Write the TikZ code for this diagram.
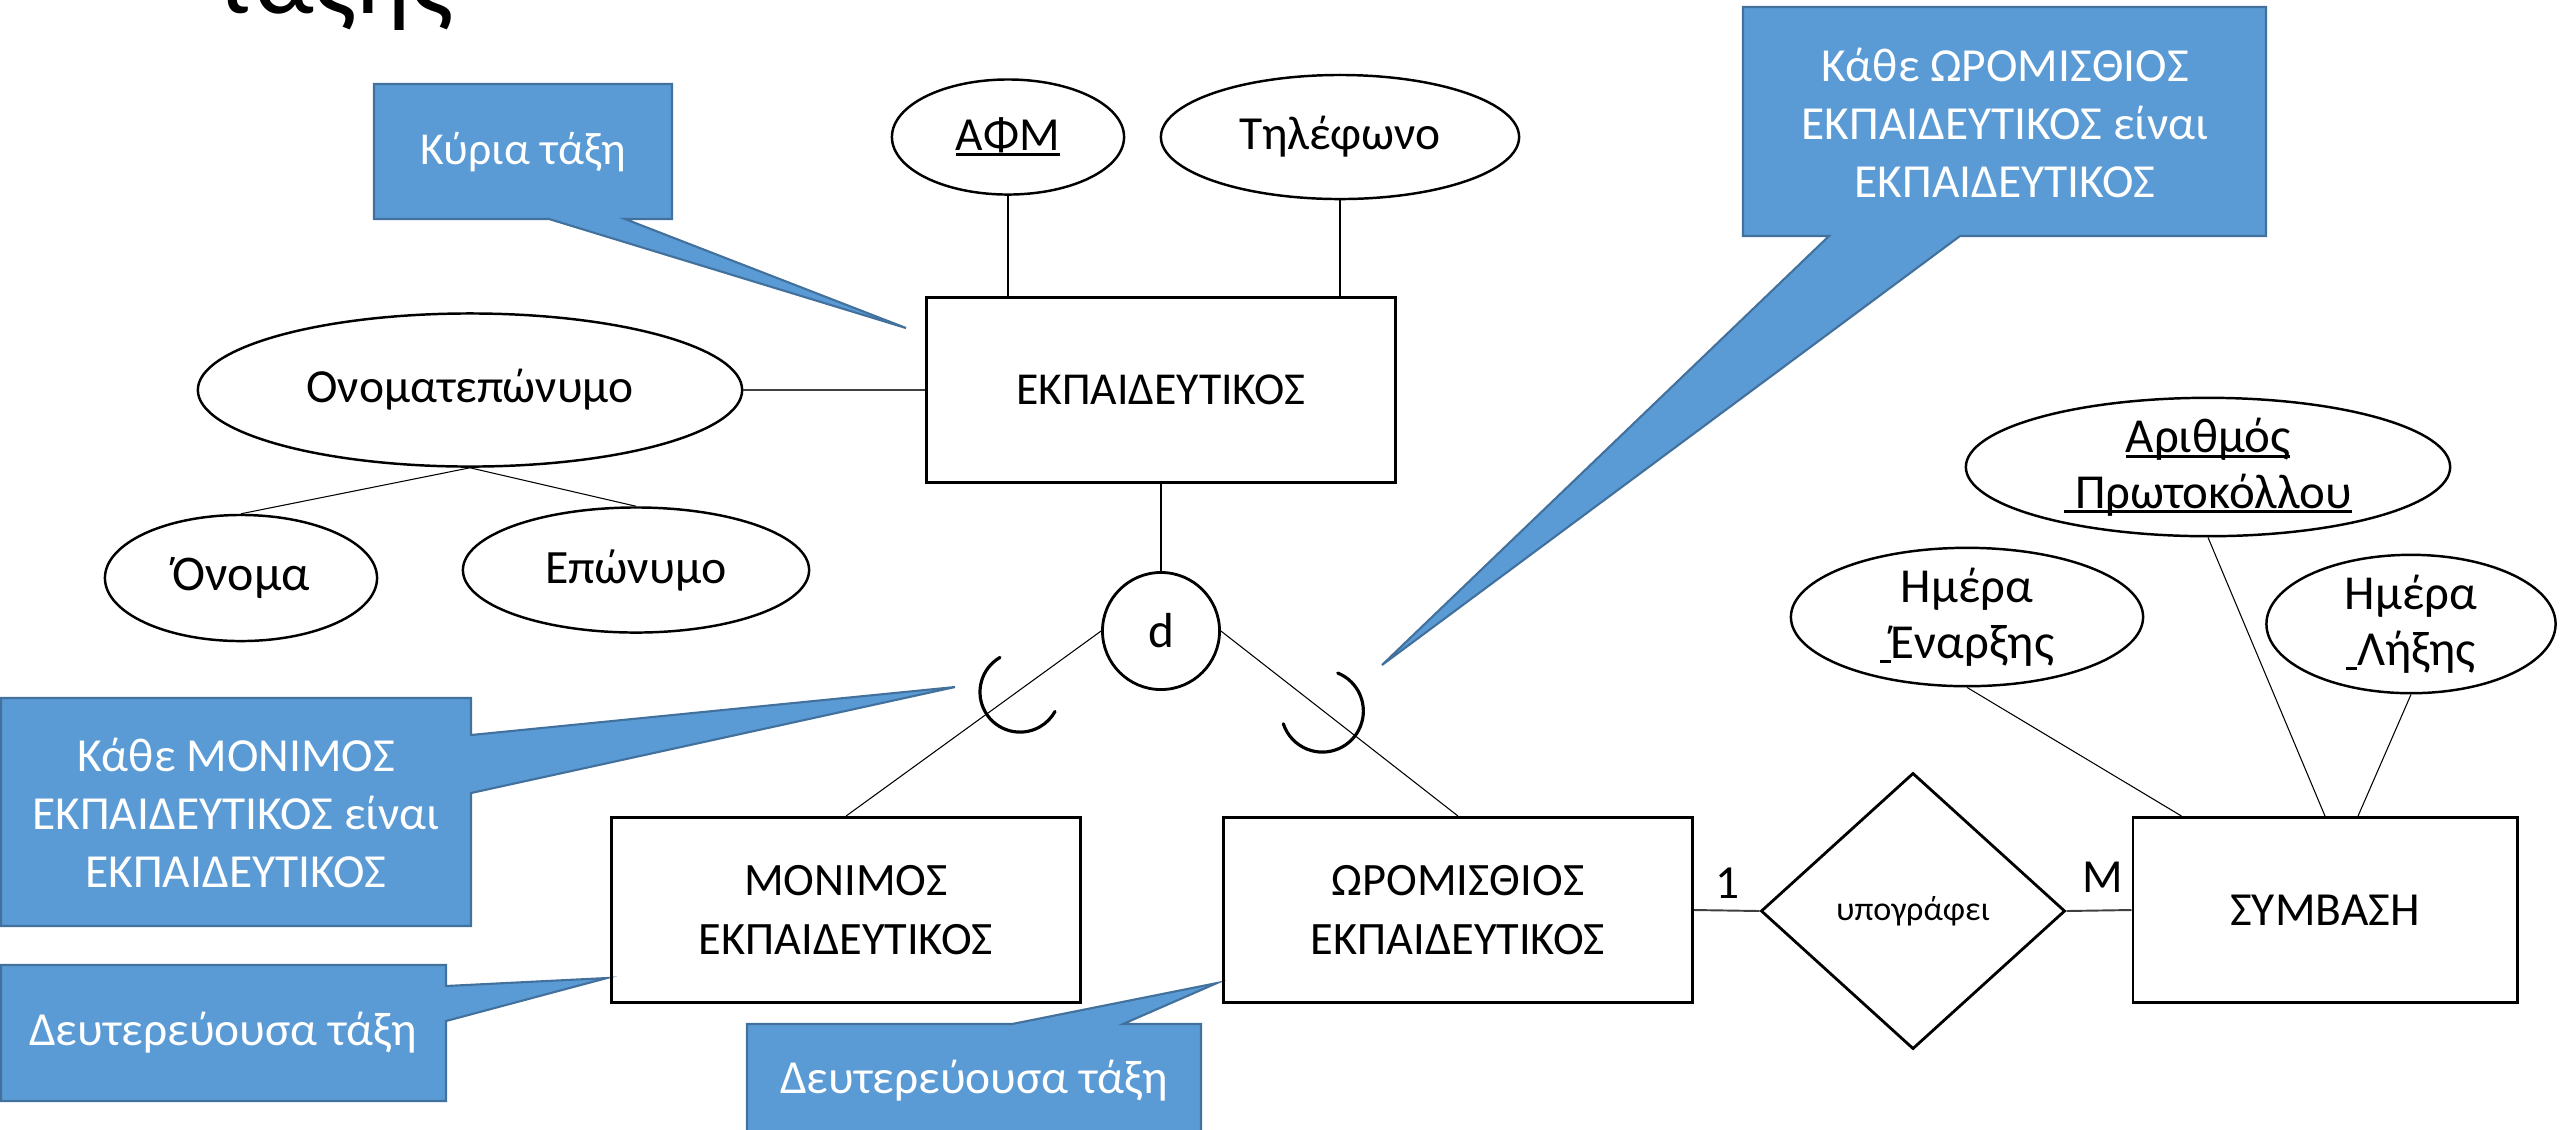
\documentclass[tikz,border=0pt]{standalone}
\usepackage{fontspec}
\setmainfont{Carlito}
\usetikzlibrary{shapes.geometric}
\definecolor{calloutfill}{HTML}{5B9BD5}
\definecolor{calloutedge}{HTML}{41719C}
% underline at a fixed depth below the baseline
\newcommand{\ulx}[1]{\setbox0=\hbox{#1}\rlap{\rule[-0.11em]{\wd0}{0.065em}}\box0}
\tikzset{
  entity/.style={draw, line width=0.8pt, rectangle, inner sep=0pt, align=center,
    font=\fontsize{13}{15}\selectfont},
  subentity/.style={entity, font=\fontsize{13.2}{16.8}\selectfont},
  attr/.style={draw, line width=0.7pt, ellipse, inner sep=0pt, align=center,
    font=\fontsize{13.5}{16}\selectfont},
  bigattr/.style={attr, font=\fontsize{13.9}{15.8}\selectfont},
  link/.style={line width=0.3pt},
  heavylink/.style={line width=0.55pt, black!75},
  callout/.style={fill=calloutfill, draw=calloutedge, line width=0.6pt, line join=miter},
  callouttext/.style={text=white, align=center, font=\fontsize{13.5}{16.4}\selectfont},
  subsetarc/.style={line width=0.9pt, line cap=round},
  card/.style={font=\fontsize{13.5}{16}\selectfont},
}
\begin{document}
\begin{tikzpicture}[x=0.01cm, y=-0.01cm]
\clip (0,0) rectangle (2560,1129);
\fill[white] (0,0) rectangle (2560,1129);

% heading fragment at the top edge
\node[anchor=base, inner sep=0pt, font=\fontsize{30}{36}\selectfont] (heading) at (334,13) {τάξης};

% callout shapes
\path[callout] (374,84) -- (672,84) -- (672,219) -- (625,219) -- (906,328) -- (549,219) -- (374,219) -- cycle;
\path[callout] (1743,7) -- (2266,7) -- (2266,236) -- (1960,236) -- (1382,665) -- (1829,236) -- (1743,236) -- cycle;
\path[callout] (1,698) -- (471,698) -- (471,735) -- (955,687) -- (471,793) -- (471,926) -- (1,926) -- cycle;
\path[callout] (1,965) -- (446,965) -- (446,986) -- (607,978) -- (446,1021) -- (446,1101) -- (1,1101) -- cycle;
\path[callout] (747,1024) -- (1012,1024) -- (1217,983) -- (1123,1024) -- (1201,1024) -- (1201,1140) -- (747,1140) -- cycle;

\node[callouttext, font=\fontsize{13}{16}\selectfont] (kyria) at (523,152) {Κύρια τάξη};
\node[callouttext] (hourlynote) at (2005,123) {Κάθε ΩΡΟΜΙΣΘΙΟΣ\\ΕΚΠΑΙΔΕΥΤΙΚΟΣ είναι\\ΕΚΠΑΙΔΕΥΤΙΚΟΣ};
\node[callouttext] (permnote) at (236,813) {Κάθε ΜΟΝΙΜΟΣ\\ΕΚΠΑΙΔΕΥΤΙΚΟΣ είναι\\ΕΚΠΑΙΔΕΥΤΙΚΟΣ};
\node[callouttext] (secleft) at (223,1033) {Δευτερεύουσα τάξη};
\node[callouttext] (secbottom) at (974,1081) {Δευτερεύουσα τάξη};

% entities
\node[entity, minimum width=4.69cm, minimum height=1.85cm] (ekp) at (1161,390) {ΕΚΠΑΙΔΕΥΤΙΚΟΣ};
\node[subentity, minimum width=4.68cm, minimum height=1.85cm] (mon) at (846,910) {ΜΟΝΙΜΟΣ\\ΕΚΠΑΙΔΕΥΤΙΚΟΣ};
\node[subentity, minimum width=4.69cm, minimum height=1.85cm] (wro) at (1458,910) {ΩΡΟΜΙΣΘΙΟΣ\\ΕΚΠΑΙΔΕΥΤΙΚΟΣ};
\node[entity, font=\fontsize{13.5}{16}\selectfont, minimum width=3.84cm, minimum height=1.85cm] (symb) at (2325,910) {ΣΥΜΒΑΣΗ};

% relationship and specialisation circle
\node[draw, diamond, line width=0.8pt, inner sep=0pt, minimum width=3.04cm, minimum height=2.76cm,
  font=\fontsize{9.7}{12}\selectfont] (sign) at (1913,911) {υπογράφει};
\node[draw, circle, line width=0.8pt, inner sep=0pt, minimum size=1.17cm,
  font=\fontsize{14}{16}\selectfont] (d) at (1161,631) {d};

% attributes
\node[attr, minimum width=2.32cm, minimum height=1.15cm] (afm) at (1008,137) {\ulx{ΑΦΜ}};
\node[attr, minimum width=3.58cm, minimum height=1.24cm] (tel) at (1340,137) {Τηλέφωνο};
\node[attr, minimum width=5.44cm, minimum height=1.53cm] (onom) at (470,390) {Ονοματεπώνυμο};
\node[attr, font=\fontsize{14.2}{16}\selectfont, minimum width=2.72cm, minimum height=1.26cm] (onoma) at (241,578) {Όνομα};
\node[attr, font=\fontsize{13.6}{16}\selectfont, minimum width=3.46cm, minimum height=1.25cm] (epon) at (636,570) {Επώνυμο};
\node[bigattr, minimum width=4.84cm, minimum height=1.37cm] (arith) at (2208,467) {\ulx{Αριθμός}\\\ulx{\ Πρωτοκόλλου}};
\node[bigattr, minimum width=3.52cm, minimum height=1.20cm] (start) at (1967,617) {Ημέρα\\\ulx{\ }Έναρξης};
\node[bigattr, minimum width=2.89cm, minimum height=1.23cm] (end) at (2411,624) {Ημέρα\\\ulx{\ }Λήξης};

% attribute links
\draw[link] (afm.south) -- (afm.south |- ekp.north);
\draw[link] (tel.south) -- (tel.south |- ekp.north);
\draw[heavylink] (onom.east) -- (ekp.west);
\draw[link] (onom.south) -- (onoma.north);
\draw[link] (onom.south) -- (epon.north);
\draw[link] (arith.south) -- (symb.north);
\draw[link] (start.south) -- ([xshift=0.5cm]symb.north west);
\draw[link] (end.south) -- ([xshift=0.33cm]symb.north);

% specialisation links
\draw[link] (ekp.south) -- (d.north);
\draw[link] (d.west) -- (mon.north);
\draw[link] (d.east) -- (wro.north);

% subset marks on the specialisation links
\draw[subsetarc] (1000,657.4) arc[start angle=120, end angle=331, radius=0.4cm];
\draw[subsetarc] (1337.7,673) arc[start angle=68, end angle=-162, radius=0.41cm];

% relationship links and cardinalities
\draw[heavylink] (wro.east) -- (sign.west);
\draw[heavylink] (sign.east) -- (symb.west);
\node[card] (one) at (1728,883) {1};
\node[card] (many) at (2103,877) {M};
\end{tikzpicture}
\end{document}
